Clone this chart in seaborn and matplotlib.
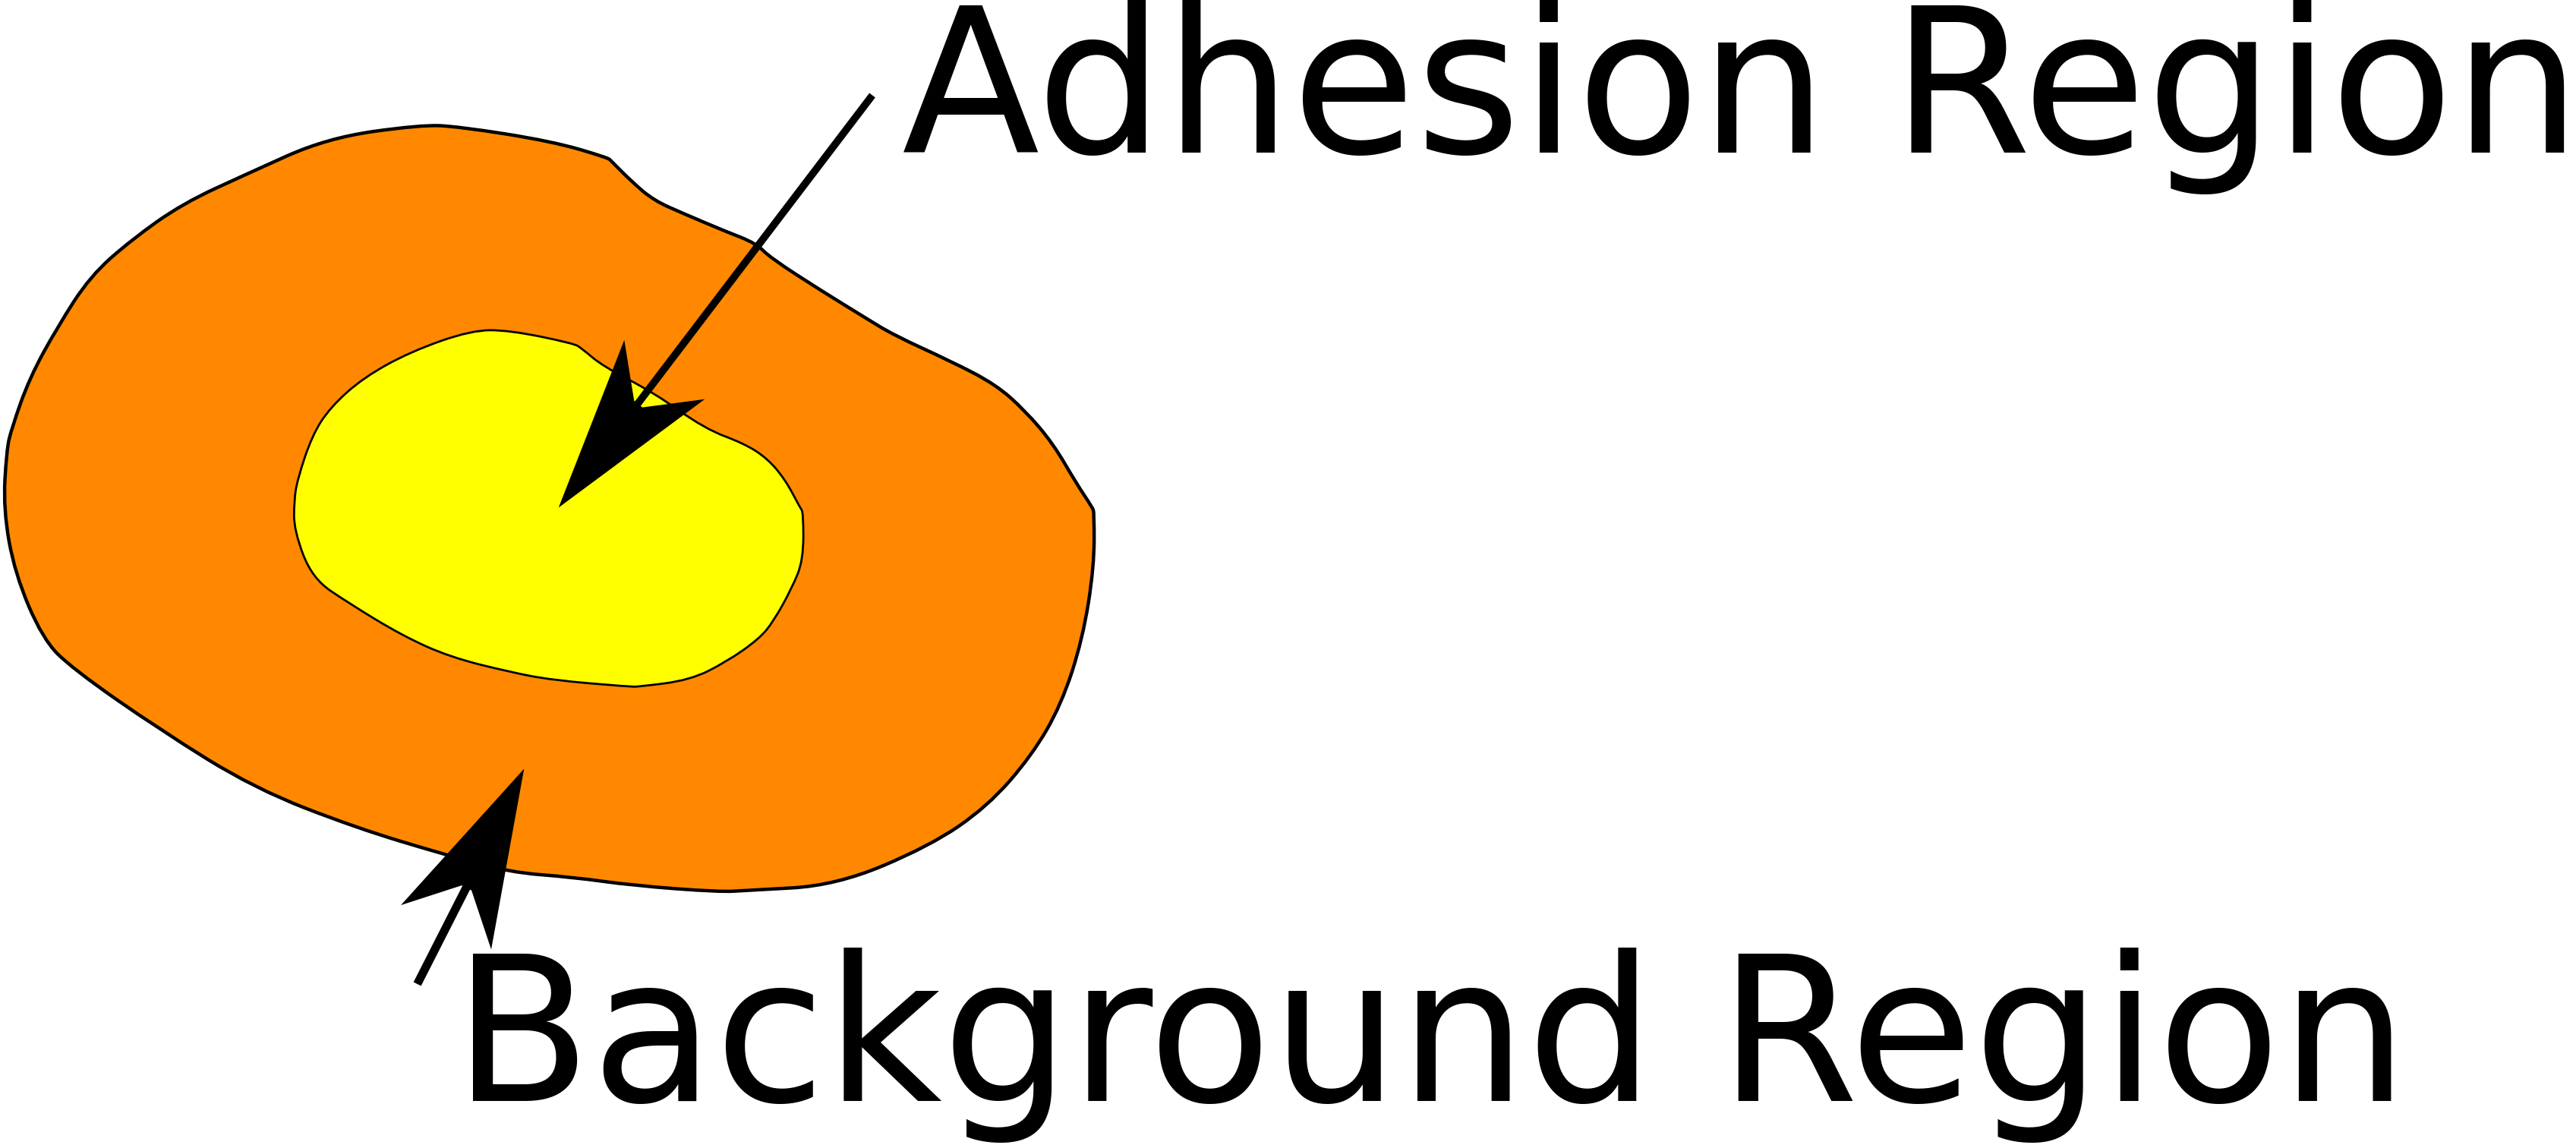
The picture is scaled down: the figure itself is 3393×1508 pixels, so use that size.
"""
Adhesion vs background region sketch: an orange cell outline with a
yellow adhesion patch inside, two arrows and two labels.
"""

import numpy as np
import matplotlib.pyplot as plt
import seaborn as sns
from matplotlib.path import Path
from matplotlib.patches import PathPatch


ORANGE = "#FF8800"
YELLOW = "#FFFF00"

# outline vertices, in picture units (x right, y down)
outer_x = [4, 7, 18, 35, 55, 80, 111, 150, 199, 256, 279, 336, 370, 372, 385, 398, 416, 442,
           460, 469, 500, 526, 544, 579, 606, 624, 641, 655, 665, 666, 666, 659, 646, 628,
           601, 566, 509, 455, 438, 385, 349, 310, 270, 217, 155, 97, 44, 26, 9, 2]
outer_y = [274, 261, 230, 199, 168, 146, 124, 106, 84, 76, 77, 86, 96, 98, 111, 122, 130, 141,
           148, 157, 177, 193, 204, 220, 234, 250, 270, 294, 309, 312, 345, 389, 429, 460,
           491, 515, 539, 542, 543, 539, 534, 531, 520, 504, 480, 444, 407, 389, 349, 310]

inner_x = [179, 181, 190, 201, 221, 250, 287, 310, 349, 354, 367, 398, 429, 453, 467, 478,
           487, 489, 489, 482, 471, 462, 442, 420, 389, 383, 336, 310, 274, 245, 212, 190, 179]
inner_y = [305, 292, 265, 248, 230, 214, 201, 201, 209, 212, 223, 239, 261, 270, 279, 292,
           309, 312, 341, 358, 378, 389, 403, 414, 418, 418, 414, 409, 400, 387, 367, 352, 323]

# arrows: shaft (tail -> head base) and head polygon (tip, barb, notch, notch, barb)
adh_shaft_x = [531, 388]
adh_shaft_y = [58, 246]
adh_head_x = [340, 380, 386, 391, 429]
adh_head_y = [309, 207, 244, 248, 243]

bg_shaft_x = [254, 284]
bg_shaft_y = [599, 540]
bg_head_x = [319, 244, 281, 287, 299]
bg_head_y = [468, 551, 539, 542, 578]

labels = ["Adhesion Region", "Background Region"]
label_x = [549, 276]
label_y = [93, 670]

W, H = 1568, 697


def smooth_outline(xs, ys) -> Path:
    # closed quadratic curve: vertices act as control points, midpoints lie on the curve
    pts = np.column_stack([xs, ys]).astype(float)
    mids = (pts + np.roll(pts, -1, axis=0)) / 2.0
    verts = [mids[-1]]
    codes = [Path.MOVETO]
    for p, m in zip(pts, mids):
        verts += [p, m]
        codes += [Path.CURVE3, Path.CURVE3]
    verts.append(mids[-1])
    codes.append(Path.CLOSEPOLY)
    return Path(verts, codes)


def main() -> None:
    sns.set_theme(style="white")
    plt.rcParams["font.family"] = ["DejaVu Sans"]

    fig = plt.figure(figsize=(33.93, 15.08), dpi=100)
    ax = fig.add_axes([0, 0, 1, 1])
    ax.set_xlim(0, W)
    ax.set_ylim(H, 0)
    ax.axis("off")

    ax.add_patch(PathPatch(smooth_outline(outer_x, outer_y), facecolor=ORANGE,
                           edgecolor="black", lw=3.2, zorder=1))
    ax.add_patch(PathPatch(smooth_outline(inner_x, inner_y), facecolor=YELLOW,
                           edgecolor="black", lw=2.0, zorder=2))

    sns.lineplot(x=adh_shaft_x, y=adh_shaft_y, sort=False, color="black", lw=7.0, ax=ax,
                 zorder=3, solid_capstyle="butt")
    ax.fill(adh_head_x, adh_head_y, facecolor="black", edgecolor="none", zorder=4)

    sns.lineplot(x=bg_shaft_x, y=bg_shaft_y, sort=False, color="black", lw=8.0, ax=ax,
                 zorder=3, solid_capstyle="butt")
    ax.fill(bg_head_x, bg_head_y, facecolor="black", edgecolor="none", zorder=4)

    for txt, x, y in zip(labels, label_x, label_y):
        ax.text(x, y, txt, ha="left", va="baseline", fontsize=191, color="black", zorder=5)

    fig.savefig("out.png", dpi=100, facecolor="white")
    plt.close(fig)


if __name__ == "__main__":
    main()
